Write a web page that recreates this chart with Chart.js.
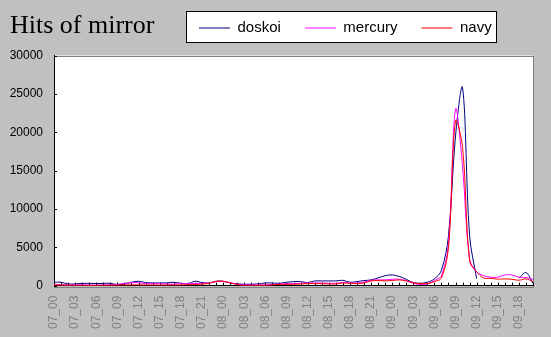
<!DOCTYPE html>
<html>
<head>
<meta charset="utf-8">
<title>Hits of mirror</title>
<script src="https://cdn.jsdelivr.net/npm/chart.js@4/dist/chart.umd.min.js"></script>
<style>
  html, body { margin: 0; padding: 0; background: #c0c0c0; }
  canvas { display: block; }
</style>
</head>
<body>
<canvas id="hits" width="551" height="337"></canvas>
<script>
// hourly categories, day_hour
const hours = [
  '07_00','07_01','07_02','07_03','07_04','07_05','07_06','07_07','07_08','07_09','07_10','07_11',
  '07_12','07_13','07_14','07_15','07_16','07_17','07_18','07_19','07_20','07_21','07_22','07_23',
  '08_00','08_01','08_02','08_03','08_04','08_05','08_06','08_07','08_08','08_09','08_10','08_11',
  '08_12','08_13','08_14','08_15','08_16','08_17','08_18','08_19','08_20','08_21','08_22','08_23',
  '09_00','09_01','09_02','09_03','09_04','09_05','09_06','09_07','09_08','09_09','09_10','09_11',
  '09_12','09_13','09_14','09_15','09_16','09_17','09_18','09_19','09_20'
];

const doskoi = [
  440, 440, 220, 220, 300, 300, 260, 300, 300, 130, 220, 440,
  570, 400, 350, 350, 350, 440, 300, 220, 570, 400, 350, 570,
  570, 350, 220, 175, 175, 220, 350, 350, 300, 440, 525, 525,
  400, 610, 610, 610, 610, 700, 440, 525, 660, 745, 1000, 1300,
  1400, 1200, 830, 390, 300, 440, 875, 2000, 6500, 19500, 25800, 6500,
  900, null, null, null, null, null, 960, 1700, 300
];

const mercury = [
  150, 100, 80, 60, 100, 60, 50, 80, 100, 150, 300, 380,
  380, 250, 250, 250, 200, 200, 250, 250, 280, 300, 350, 500,
  550, 400, 200, 100, 80, 80, 100, 150, 200, 250, 250, 300,
  350, 350, 350, 300, 300, 400, 350, 350, 450, 700, 750, 750,
  830, 830, 660, 300, 175, 220, 660, 1300, 5500, 23000, 15500, 3500,
  1800, 1300, 1100, 1100, 1400, 1400, 1100, 1050, 830
];

const navy = [
  100, 80, 60, 60, 50, 40, 40, 50, 60, 60, 80, 100,
  100, 80, 80, 60, 60, 80, 80, 100, 150, 200, 300, 570,
  570, 350, 130, 30, 40, 40, 40, 90, 170, 170, 170, 220,
  260, 260, 260, 220, 220, 350, 300, 260, 350, 610, 660, 620,
  660, 745, 610, 390, 260, 260, 525, 1000, 5000, 21500, 18000, 3200,
  1800, 1000, 950, 850, 875, 830, 700, 875, 525
];

const yTicks = [0, 5000, 10000, 15000, 20000, 25000, 30000];

// white plot area, boxed legend, title and legend sharing the top row, inner tick marks
const frame = {
  id: 'frame',
  beforeDraw(chart) {
    const { ctx, chartArea: a } = chart;
    ctx.save();
    ctx.fillStyle = '#ffffff';
    ctx.fillRect(a.left, a.top, a.right - a.left, a.bottom - a.top);
    ctx.strokeStyle = '#808080';
    ctx.lineWidth = 1;
    ctx.strokeRect(Math.round(a.left) + 0.5, Math.round(a.top) + 0.5,
      Math.round(a.right - a.left), Math.round(a.bottom - a.top) + 1);
    ctx.fillStyle = '#ffffff';
    ctx.fillRect(186, 11, 311, 32);
    ctx.strokeStyle = '#000000';
    ctx.strokeRect(186.5, 11.5, 310, 31);
    ctx.restore();

    const t = chart.titleBlock;
    t.top = 11;
    t.left = 10;

    const lg = chart.legend;
    lg.left = 175;
    lg.right = 551;
    lg.top = -3.5;
    lg.bottom = 45;
  },
  beforeDatasetsDraw(chart) {
    const { ctx, chartArea: a, scales } = chart;
    ctx.save();
    ctx.strokeStyle = '#000000';
    ctx.lineWidth = 1;
    ctx.beginPath();
    hours.forEach((h, i) => {
      const x = Math.round(scales.x.getPixelForValue(i)) + 0.5;
      ctx.moveTo(x, a.bottom);
      ctx.lineTo(x, a.bottom - 3);
    });
    yTicks.forEach(v => {
      const y = Math.round(scales.y.getPixelForValue(v)) + 0.5;
      ctx.moveTo(a.left, y);
      ctx.lineTo(a.left + 3, y);
    });
    ctx.stroke();
    ctx.restore();
  }
};

new Chart(document.getElementById('hits'), {
  type: 'line',
  data: {
    labels: hours,
    datasets: [
      { label: 'doskoi', data: doskoi, borderColor: '#000080', backgroundColor: '#000080', order: 3 },
      { label: 'mercury', data: mercury, borderColor: '#ff00ff', backgroundColor: '#ff00ff', order: 2 },
      { label: 'navy', data: navy, borderColor: '#ff0000', backgroundColor: '#ff0000', order: 1 }
    ]
  },
  options: {
    responsive: false,
    animation: false,
    devicePixelRatio: 1,
    events: [],
    layout: {
      padding: { top: -24.7, left: 10, right: 18, bottom: -2 }
    },
    elements: {
      line: { borderWidth: 1, tension: 0.35, fill: false },
      point: { radius: 0, hoverRadius: 0 }
    },
    plugins: {
      title: {
        display: true,
        text: 'Hits of mirror',
        align: 'start',
        color: '#000000',
        padding: 0,
        font: { family: '"Liberation Serif", "Times New Roman", serif', size: 26, weight: 'normal', lineHeight: 1.2 }
      },
      legend: {
        display: true,
        position: 'top',
        align: 'start',
        labels: {
          color: '#000000',
          font: { family: '"Liberation Sans", Arial, sans-serif', size: 15 },
          usePointStyle: true,
          pointStyle: 'line',
          pointStyleWidth: 31,
          padding: 24,
          sort: (a, b) => a.datasetIndex - b.datasetIndex
        }
      },
      tooltip: { enabled: false }
    },
    scales: {
      x: {
        offset: false,
        grid: { display: false, drawTicks: false },
        border: { display: true, color: '#000000', width: 1 },
        afterFit: scale => {
          scale.paddingLeft = 0;
          scale.paddingRight = 0;
        },
        ticks: {
          autoSkip: false,
          minRotation: 90,
          maxRotation: 90,
          padding: 10,
          color: '#808080',
          font: { family: '"Liberation Sans", Arial, sans-serif', size: 12 },
          callback: (value, index) => (index % 3 === 0 ? hours[index] : '')
        }
      },
      y: {
        min: 0,
        max: 30000,
        grid: { display: false, drawTicks: false },
        border: { display: true, color: '#000000', width: 1 },
        afterFit: scale => {
          scale.width = 44;
        },
        ticks: {
          stepSize: 5000,
          padding: 11,
          color: '#000000',
          font: { family: '"Liberation Sans", Arial, sans-serif', size: 12 },
          callback: value => String(value)
        }
      }
    }
  },
  plugins: [frame]
});
</script>
</body>
</html>
